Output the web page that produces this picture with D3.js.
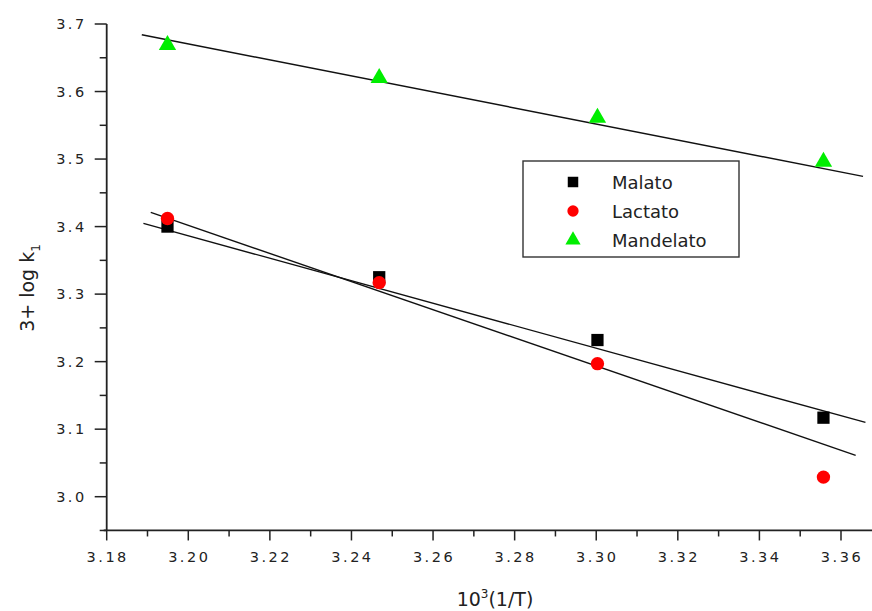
<!DOCTYPE html>
<html>
<head>
<meta charset="utf-8">
<script src="https://cdn.jsdelivr.net/npm/d3@7"></script>
<style>
  body { margin: 0; background: #fff; }
  svg { display: block; font-family: "DejaVu Sans", Verdana, sans-serif; }
</style>
</head>
<body>
<script>
// 10^3/T for T = 313, 308, 303, 298 K
var invT = [3.1949, 3.2468, 3.3003, 3.3557]
var malato = [3.400, 3.325, 3.232, 3.117]
var lactato = [3.412, 3.317, 3.197, 3.029]
var mandelato = [3.669, 3.620, 3.561, 3.496]

// fitted lines as drawn: [x1, y1, x2, y2]
var fitMalato = [3.1890, 3.4047, 3.3660, 3.1100]
var fitLactato = [3.1908, 3.4210, 3.3636, 3.0612]
var fitMandelato = [3.1886, 3.6841, 3.3654, 3.4743]

var xTicks = [3.18, 3.20, 3.22, 3.24, 3.26, 3.28, 3.30, 3.32, 3.34, 3.36]
var yTicks = [3.0, 3.1, 3.2, 3.3, 3.4, 3.5, 3.6, 3.7]

var width = 872, height = 611

var x = d3.scaleLinear().domain([3.18, 3.3676]).range([106.7, 872])
var y = d3.scaleLinear().domain([3.0, 3.7]).range([496.7, 24])
var yBottom = 2.95

var svg = d3.select("body").append("svg")
  .attr("width", width)
  .attr("height", height)

// axes
var xAxis = svg.append("g")
  .attr("transform", "translate(0," + y(yBottom) + ")")
xAxis.append("line")
  .attr("x1", x(3.18) - 3).attr("x2", width)
  .attr("stroke", "#222").attr("stroke-width", 1.8)
xAxis.selectAll(".minor")
  .data(d3.range(3.19, 3.37, 0.02))
  .enter().append("line")
  .attr("x1", d => x(d)).attr("x2", d => x(d))
  .attr("y1", 0).attr("y2", 6)
  .attr("stroke", "#222").attr("stroke-width", 1.5)
xAxis.selectAll(".major")
  .data(xTicks)
  .enter().append("line")
  .attr("x1", d => x(d)).attr("x2", d => x(d))
  .attr("y1", 0).attr("y2", 10)
  .attr("stroke", "#222").attr("stroke-width", 1.5)
xAxis.selectAll("text")
  .data(xTicks)
  .enter().append("text")
  .attr("x", d => x(d) + 1)
  .attr("y", 32)
  .attr("text-anchor", "middle")
  .attr("font-size", 14.5)
  .attr("letter-spacing", "2.5px")
  .attr("fill", "#222")
  .text(d => d3.format(".2f")(d))

var yAxis = svg.append("g")
  .attr("transform", "translate(" + x(3.18) + ",0)")
yAxis.append("line")
  .attr("y1", y(3.7)).attr("y2", y(yBottom))
  .attr("stroke", "#222").attr("stroke-width", 1.8)
yAxis.selectAll(".minor")
  .data([2.95, 3.05, 3.15, 3.25, 3.35, 3.45, 3.55, 3.65])
  .enter().append("line")
  .attr("y1", d => y(d)).attr("y2", d => y(d))
  .attr("x1", 0).attr("x2", -7)
  .attr("stroke", "#222").attr("stroke-width", 1.5)
yAxis.selectAll(".major")
  .data(yTicks)
  .enter().append("line")
  .attr("y1", d => y(d)).attr("y2", d => y(d))
  .attr("x1", 0).attr("x2", -12)
  .attr("stroke", "#222").attr("stroke-width", 1.5)
yAxis.selectAll("text")
  .data(yTicks)
  .enter().append("text")
  .attr("x", -20)
  .attr("y", d => y(d) + 5)
  .attr("text-anchor", "end")
  .attr("font-size", 14.5)
  .attr("letter-spacing", "2.5px")
  .attr("fill", "#222")
  .text(d => d3.format(".1f")(d))

// axis titles
var xt = svg.append("text")
  .attr("x", 495).attr("y", 606)
  .attr("text-anchor", "middle")
  .attr("font-size", 19)
  .attr("fill", "#222")
xt.append("tspan").text("10")
xt.append("tspan").attr("dy", -8).attr("font-size", 12).text("3")
xt.append("tspan").attr("dy", 8).text("(1/T)")

var yt = svg.append("text")
  .attr("transform", "translate(34,288) rotate(-90)")
  .attr("text-anchor", "middle")
  .attr("font-size", 19)
  .attr("fill", "#222")
yt.append("tspan").text("3+ log k")
yt.append("tspan").attr("dy", 6).attr("font-size", 12).text("1")

// fitted lines
var fits = [fitMalato, fitLactato, fitMandelato]
svg.selectAll(".fit")
  .data(fits)
  .enter().append("line")
  .attr("class", "fit")
  .attr("x1", d => x(d[0])).attr("y1", d => y(d[1]))
  .attr("x2", d => x(d[2])).attr("y2", d => y(d[3]))
  .attr("stroke", "#111").attr("stroke-width", 1.4)

// markers
var sq = d3.symbol().type(d3.symbolSquare).size(150)
var ci = d3.symbol().type(d3.symbolCircle).size(140)
var tr = d3.symbol().type(d3.symbolTriangle).size(130)

var series = [
  { name: "Malato", values: malato, sym: sq, color: "#000000" },
  { name: "Lactato", values: lactato, sym: ci, color: "#ff0000" },
  { name: "Mandelato", values: mandelato, sym: tr, color: "#00ee00" }
]

series.forEach(function (s) {
  svg.selectAll(null)
    .data(s.values)
    .enter().append("path")
    .attr("d", s.sym)
    .attr("transform", (d, i) => "translate(" + x(invT[i]) + "," + y(d) + ")")
    .attr("fill", s.color)
})

// legend
var legend = svg.append("g").attr("transform", "translate(523,161)")
legend.append("rect")
  .attr("width", 216).attr("height", 96)
  .attr("fill", "#fff").attr("stroke", "#333").attr("stroke-width", 1.4)
var items = legend.selectAll(".item")
  .data(series)
  .enter().append("g")
  .attr("transform", (d, i) => "translate(0," + (21 + i * 29) + ")")
items.append("path")
  .attr("d", d => d.sym.size(d.name == "Malato" ? 110 : 100)())
  .attr("transform", "translate(50,0)")
  .attr("fill", d => d.color)
items.append("text")
  .attr("x", 89).attr("y", 7)
  .attr("font-size", 18)
  .attr("fill", "#222")
  .text(d => d.name)
</script>
</body>
</html>
